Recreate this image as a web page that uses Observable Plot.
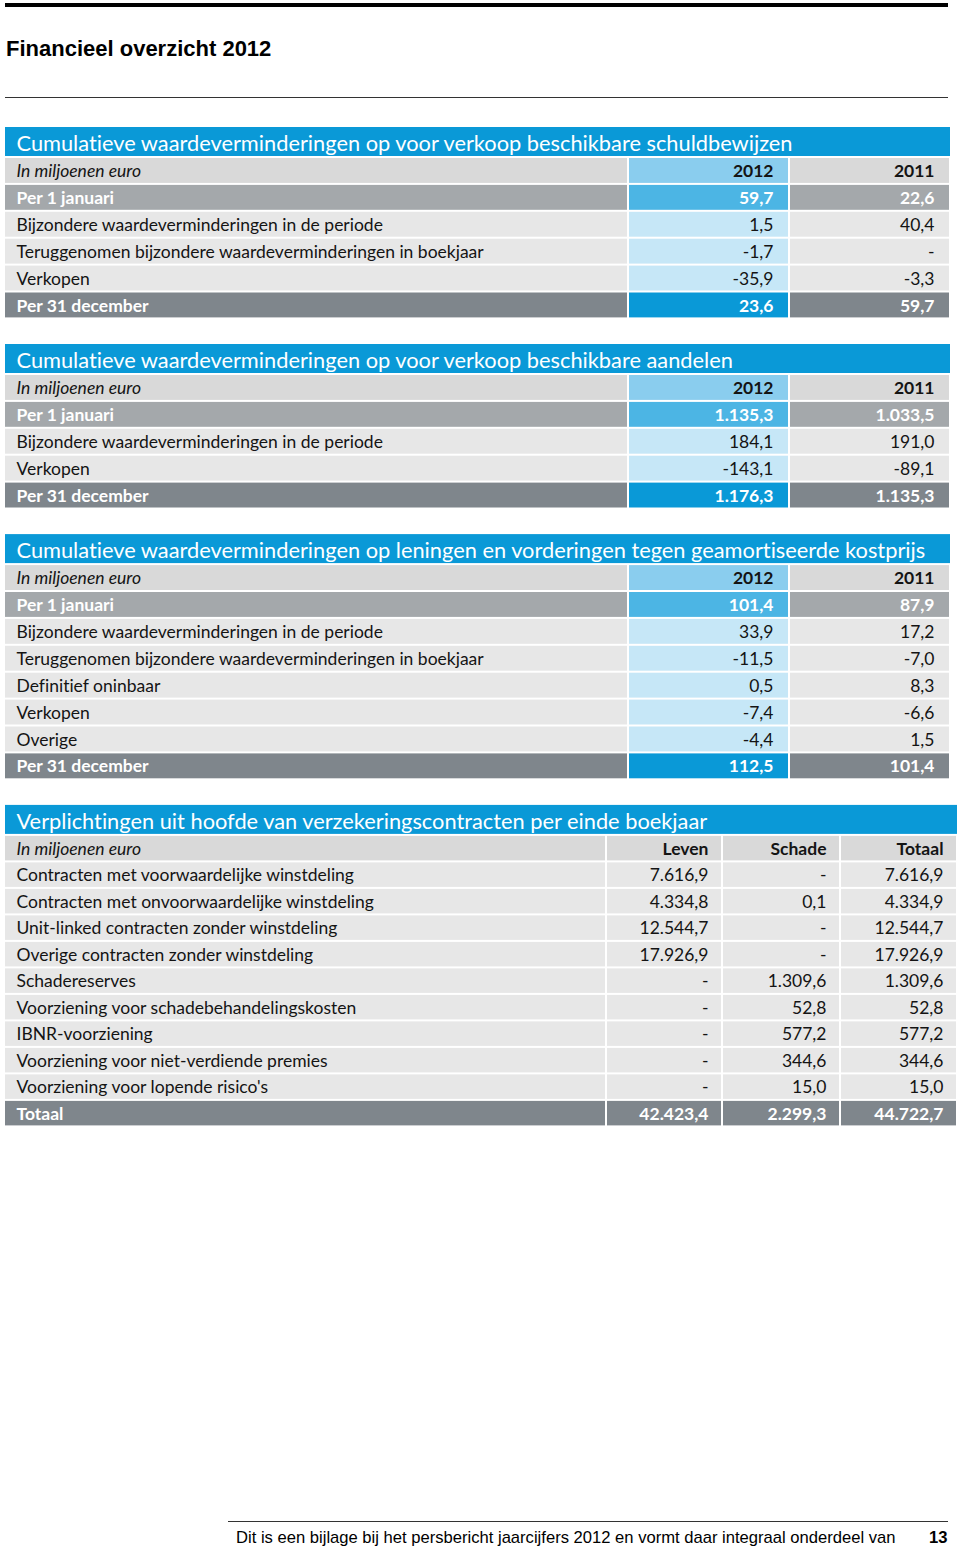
<!DOCTYPE html>
<html><head><meta charset="utf-8">
<script src="https://cdn.jsdelivr.net/npm/d3@7"></script>
<script src="https://cdn.jsdelivr.net/npm/@observablehq/plot@0.6"></script>
<style>
html,body{margin:0;padding:0;background:#fff;}
body{width:960px;height:1550px;position:relative;overflow:hidden;}
.abs{position:absolute;}
#chart{position:absolute;left:0;top:110px;}
#chart text{font-variant-ligatures:none;}
</style></head>
<body>
<div class="abs" style="left:5px;top:3px;width:943px;height:4px;background:#000"></div>
<div class="abs" style="left:6px;top:36px;font:bold 22px 'Liberation Sans',Arial,sans-serif;color:#000">Financieel overzicht 2012</div>
<div class="abs" style="left:5px;top:97px;width:943px;height:1px;background:#333"></div>
<div id="chart"></div>
<div class="abs" style="left:228px;top:1521px;width:720px;height:1px;background:#333"></div>
<div class="abs" style="left:236px;top:1528px;font:16.6px 'Liberation Sans',Arial,sans-serif;color:#000">Dit is een bijlage bij het persbericht jaarcijfers 2012 en vormt daar integraal onderdeel van</div>
<div class="abs" style="left:929px;top:1528px;font:bold 16.6px 'Liberation Sans',Arial,sans-serif;color:#000">13</div>
<script>
// ---- data ----
const unitLabel = "In miljoenen euro";

const t1Title = "Cumulatieve waardeverminderingen op voor verkoop beschikbare schuldbewijzen";
const t1Cols = ["2012", "2011"];
const t1Labels = ["Per 1 januari", "Bijzondere waardeverminderingen in de periode", "Teruggenomen bijzondere waardeverminderingen in boekjaar", "Verkopen", "Per 31 december"];
const t1V2012 = [59.7, 1.5, -1.7, -35.9, 23.6];
const t1V2011 = [22.6, 40.4, null, -3.3, 59.7];

const t2Title = "Cumulatieve waardeverminderingen op voor verkoop beschikbare aandelen";
const t2Cols = ["2012", "2011"];
const t2Labels = ["Per 1 januari", "Bijzondere waardeverminderingen in de periode", "Verkopen", "Per 31 december"];
const t2V2012 = [1135.3, 184.1, -143.1, 1176.3];
const t2V2011 = [1033.5, 191.0, -89.1, 1135.3];

const t3Title = "Cumulatieve waardeverminderingen op leningen en vorderingen tegen geamortiseerde kostprijs";
const t3Cols = ["2012", "2011"];
const t3Labels = ["Per 1 januari", "Bijzondere waardeverminderingen in de periode", "Teruggenomen bijzondere waardeverminderingen in boekjaar", "Definitief oninbaar", "Verkopen", "Overige", "Per 31 december"];
const t3V2012 = [101.4, 33.9, -11.5, 0.5, -7.4, -4.4, 112.5];
const t3V2011 = [87.9, 17.2, -7.0, 8.3, -6.6, 1.5, 101.4];

const t4Title = "Verplichtingen uit hoofde van verzekeringscontracten per einde boekjaar";
const t4Cols = ["Leven", "Schade", "Totaal"];
const t4Labels = ["Contracten met voorwaardelijke winstdeling", "Contracten met onvoorwaardelijke winstdeling", "Unit-linked contracten zonder winstdeling", "Overige contracten zonder winstdeling", "Schadereserves", "Voorziening voor schadebehandelingskosten", "IBNR-voorziening", "Voorziening voor niet-verdiende premies", "Voorziening voor lopende risico's", "Totaal"];
const t4Leven = [7616.9, 4334.8, 12544.7, 17926.9, null, null, null, null, null, 42423.4];
const t4Schade = [null, 0.1, null, null, 1309.6, 52.8, 577.2, 344.6, 15.0, 2299.3];
const t4Totaal = [7616.9, 4334.9, 12544.7, 17926.9, 1309.6, 52.8, 577.2, 344.6, 15.0, 44722.7];

// ---- formatting ----
const nl = d3.formatLocale({decimal: ",", thousands: ".", grouping: [3], currency: ["€ ", ""], minus: "-"});
const f1 = nl.format(",.1f");
const fmt = v => v == null ? "-" : f1(v);

// ---- styles ----
const C = {
  blue: "#0a99d7", headGray: "#d9d9d9", headBlue: "#8acdee",
  openGray: "#a4a8ab", openBlue: "#4cb5e4",
  bodyGray: "#e7e7e7", bodyBlue: "#c6e7f7",
  closeGray: "#7f868c", closeBlue: "#0a99d7"
};
const FONT = "Lato, 'Open Sans', sans-serif";

// ---- layout ----
const tables = [
  {title: t1Title, cols: t1Cols, labels: t1Labels, values: [t1V2012, t1V2011], edges: [5, 628, 789, 950], pitch: 26.9, blueCol: true, pad: 16},
  {title: t2Title, cols: t2Cols, labels: t2Labels, values: [t2V2012, t2V2011], edges: [5, 628, 789, 950], pitch: 26.9, blueCol: true, pad: 16},
  {title: t3Title, cols: t3Cols, labels: t3Labels, values: [t3V2012, t3V2011], edges: [5, 628, 789, 950], pitch: 26.9, blueCol: true, pad: 16},
  {title: t4Title, cols: t4Cols, labels: t4Labels, values: [t4Leven, t4Schade, t4Totaal], edges: [5, 606, 722, 840, 957], pitch: 26.5, blueCol: false, pad: 14}
];

const cells = [], titles = [], txt = [];
let yTop = 17;
const TITLE_H = 30, GAP = 25.6;
for (const t of tables) {
  const E = t.edges;
  cells.push({x1: E[0], x2: E[E.length - 1], y1: yTop, y2: yTop + TITLE_H - 1, fill: C.blue});
  titles.push({x: 16, y: yTop + TITLE_H / 2 + 1.5, text: t.title});
  const rows = [{label: unitLabel, kind: "head", vals: t.cols}];
  t.labels.forEach((l, i) => {
    const kind = i === 0 && t.blueCol ? "open" : (i === t.labels.length - 1 ? "close" : "body");
    rows.push({label: l, kind, vals: t.values.map(a => fmt(a[i]))});
  });
  rows.forEach((r, ri) => {
    const y0 = yTop + TITLE_H + ri * t.pitch;
    const yc = y0 + t.pitch / 2 + 0.5;
    for (let c = 0; c < E.length - 1; c++) {
      let fill;
      const blue = t.blueCol && c === 1;
      if (r.kind === "head") fill = blue ? C.headBlue : C.headGray;
      else if (r.kind === "open") fill = blue ? C.openBlue : C.openGray;
      else if (r.kind === "body") fill = blue ? C.bodyBlue : C.bodyGray;
      else fill = blue ? C.closeBlue : C.closeGray;
      cells.push({x1: E[c] + (c ? 1 : 0), x2: E[c + 1] - 1, y1: y0 + 1, y2: y0 + t.pitch - 1, fill});
    }
    const white = r.kind === "open" || r.kind === "close";
    const color = white ? "#ffffff" : "#141414";
    txt.push({x: 16, y: yc, text: r.label, anchor: "start", color,
      style: r.kind === "head" ? "italic" : "normal", weight: white ? "bold" : "normal"});
    r.vals.forEach((v, c) => {
      txt.push({x: E[c + 2] - t.pad, y: yc, text: v, anchor: "end", color,
        style: "normal", weight: (white || r.kind === "head") ? "bold" : "normal"});
    });
  });
  yTop += TITLE_H + rows.length * t.pitch + GAP;
}

const groups = d3.groups(txt, d => d.anchor + "|" + d.style + "|" + d.weight);
const textMarks = groups.map(([k, arr]) => {
  const [anchor, style, weight] = k.split("|");
  return Plot.text(arr, {x: "x", y: "y", text: "text", fill: "color", textAnchor: anchor,
    fontStyle: style, fontWeight: weight, fontSize: 17.5, fontFamily: FONT});
});

const chart = Plot.plot({
  width: 960, height: 1030,
  margin: 0,
  x: {type: "identity", axis: null},
  y: {type: "identity", axis: null},
  color: {type: "identity"},
  style: {background: "#fff"},
  marks: [
    Plot.rect(cells, {x1: "x1", x2: "x2", y1: "y1", y2: "y2", fill: "fill"}),
    Plot.text(titles, {x: "x", y: "y", text: "text", fill: "#ffffff", textAnchor: "start", fontSize: 21.8, fontFamily: FONT}),
    ...textMarks
  ]
});
document.getElementById("chart").appendChild(chart);
</script>
</body></html>
